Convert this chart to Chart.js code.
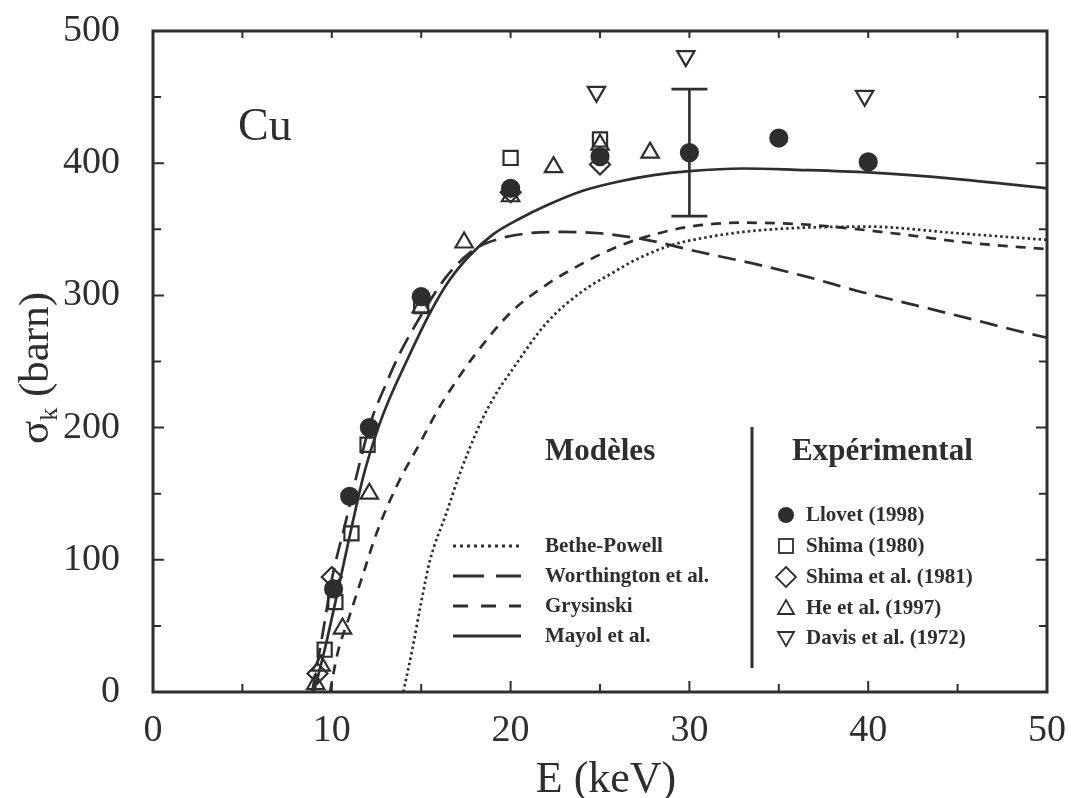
<!DOCTYPE html>
<html>
<head>
<meta charset="utf-8">
<script src="https://cdn.jsdelivr.net/npm/chart.js@4"></script>
<style>
  body { margin: 0; background: #fff; }
  canvas { display: block; }
</style>
</head>
<body>
<canvas id="chart" width="1071" height="798"></canvas>
<script>
const ink = '#2e2e2e'
const serif = "'Liberation Serif', 'DejaVu Serif', serif"

// axis ticks
const xTicks = [0, 10, 20, 30, 40, 50]
const yTicks = [0, 100, 200, 300, 400, 500]

// models (E in keV, sigma in barn)
const betheE = [14.0, 14.5, 15.0, 15.5, 16.4, 17.1, 18.3, 19.2, 20, 22, 24, 25.7, 27, 29, 31, 33, 36, 40, 45, 50]
const betheS = [0, 32, 68, 100, 135, 163, 203, 226, 242, 279, 303, 317, 327, 338, 344, 348, 351, 352, 347, 342]

const worthE = [8.9, 9.5, 10, 10.8, 11.5, 12.2, 13, 13.8, 15, 16.4, 18, 19.4, 21, 22.9, 25, 27.6, 30.5, 33.6, 36.6, 39.5, 42.5, 45.5, 48.7, 50]
const worthS = [0, 45, 85, 130, 170, 205, 232, 256, 285, 314, 335, 343, 347, 348, 347, 342, 333, 324, 314, 303, 293, 283, 272, 268]

const grysE = [9.9, 10.3, 11, 11.7, 12.5, 13.6, 15, 16, 17, 18, 20, 22, 24, 26, 28, 30, 33, 36, 38, 42, 45.5, 50]
const grysS = [0, 28, 58, 87, 120, 155, 190, 215, 236, 255, 287, 308, 324, 337, 346, 352, 355, 354, 352, 346, 340, 335]

const mayolE = [9.0, 9.6, 10.2, 11, 11.8, 12.6, 13.2, 14, 15.5, 16.5, 17.7, 19, 20.5, 22, 24, 26, 28, 30, 33, 36, 40, 45, 50]
const mayolS = [0, 32, 68, 118, 165, 200, 221, 245, 287, 310, 330, 346, 358, 368, 379, 386, 391, 394, 396, 395, 393, 388, 381]

// experiments
const llovetE = [10.1, 11, 12.1, 15, 20, 25, 30, 35, 40]
const llovetS = [78, 148, 200, 299, 381, 405, 408, 419, 401]
const errE = [30]
const errLo = [360]
const errHi = [456]

const shima80E = [9.6, 10.2, 11.1, 12, 15, 20, 25]
const shima80S = [32, 68, 120, 187, 292, 404, 418]

const shima81E = [9.2, 10.0, 20, 25]
const shima81S = [14, 87, 378, 399]

const heE = [9.1, 9.4, 10.6, 12.1, 15, 17.4, 20, 22.4, 25, 27.8]
const heS = [6, 20, 48, 150, 291, 340, 375, 397, 414, 408]

const davisE = [24.8, 29.8, 39.8]
const davisS = [454, 481, 451]

const pts = (xs, ys) => xs.map((x, i) => ({x: x, y: ys[i]}))

const curve = (label, xs, ys, dash) => ({
  label: label,
  data: pts(xs, ys),
  showLine: true,
  borderColor: ink,
  borderWidth: 2.7,
  borderDash: dash,
  pointRadius: 0,
  cubicInterpolationMode: 'monotone',
})

const markers = (label, xs, ys, style, r, filled, rot) => ({
  label: label,
  data: pts(xs, ys),
  showLine: false,
  pointStyle: style,
  pointRadius: r,
  rotation: rot || 0,
  borderColor: ink,
  borderWidth: 2.2,
  backgroundColor: filled ? ink : 'rgba(0,0,0,0)',
})

const models = [
  {name: 'Bethe-Powell', dash: [3, 4]},
  {name: 'Worthington et al.', dash: [31, 12]},
  {name: 'Grysinski', dash: [15, 13]},
  {name: 'Mayol et al.', dash: []},
]
const experiments = [
  {name: 'Llovet (1998)', shape: 'dot'},
  {name: 'Shima (1980)', shape: 'square'},
  {name: 'Shima et al. (1981)', shape: 'diamond'},
  {name: 'He et al. (1997)', shape: 'up'},
  {name: 'Davis et al. (1972)', shape: 'down'},
]

// frame, inside ticks, error bar, titles and the two-column key
const decorations = {
  id: 'decorations',
  afterDatasetsDraw(chart) {
    const {ctx, chartArea: a, scales: {x, y}} = chart
    ctx.save()
    ctx.strokeStyle = ink
    ctx.fillStyle = ink

    // error bar on Llovet 30 keV
    ctx.lineWidth = 2.6
    errE.forEach((e, i) => {
      const px = x.getPixelForValue(e)
      const top = y.getPixelForValue(errHi[i])
      const bot = y.getPixelForValue(errLo[i])
      ctx.beginPath()
      ctx.moveTo(px, top); ctx.lineTo(px, bot)
      ctx.moveTo(px - 18, top); ctx.lineTo(px + 18, top)
      ctx.moveTo(px - 18, bot); ctx.lineTo(px + 18, bot)
      ctx.stroke()
    })

    // frame
    ctx.lineWidth = 3
    ctx.strokeRect(a.left, a.top, a.right - a.left, a.bottom - a.top)

    // tick marks pointing inward
    ctx.lineWidth = 2
    ctx.beginPath()
    for (let v = 0; v <= 50; v += 5) {
      const px = x.getPixelForValue(v)
      const len = v % 10 === 0 ? 11 : 8
      ctx.moveTo(px, a.bottom); ctx.lineTo(px, a.bottom - len)
      ctx.moveTo(px, a.top); ctx.lineTo(px, a.top + 7)
    }
    for (let v = 0; v <= 500; v += 50) {
      const py = y.getPixelForValue(v)
      const len = v % 100 === 0 ? 11 : 8
      ctx.moveTo(a.left, py); ctx.lineTo(a.left + len, py)
      ctx.moveTo(a.right, py); ctx.lineTo(a.right - len, py)
    }
    ctx.stroke()

    // element label
    ctx.font = '46px ' + serif
    ctx.textAlign = 'left'
    ctx.textBaseline = 'alphabetic'
    ctx.fillText('Cu', 238, 140)

    // axis titles
    ctx.font = '44px ' + serif
    ctx.textAlign = 'center'
    ctx.fillText('E (keV)', 606, 792)

    ctx.save()
    ctx.translate(48, 368)
    ctx.rotate(-Math.PI / 2)
    ctx.textAlign = 'left'
    ctx.font = '43px ' + serif
    const sig = 'σ', rest = ' (barn)'
    const wSig = ctx.measureText(sig).width
    ctx.font = '26px ' + serif
    const wK = ctx.measureText('k').width
    ctx.font = '43px ' + serif
    const wRest = ctx.measureText(rest).width
    let tx = -(wSig + wK + wRest) / 2
    ctx.fillText(sig, tx, 0); tx += wSig
    ctx.font = '26px ' + serif
    ctx.fillText('k', tx, 9); tx += wK
    ctx.font = '43px ' + serif
    ctx.fillText(rest, tx, 0)
    ctx.restore()

    // key
    ctx.lineWidth = 3
    ctx.beginPath()
    ctx.moveTo(752, 427); ctx.lineTo(752, 668)
    ctx.stroke()

    ctx.textAlign = 'left'
    ctx.textBaseline = 'middle'
    ctx.font = 'bold 31px ' + serif
    ctx.fillText('Modèles', 545, 452)
    ctx.fillText('Expérimental', 792, 452)

    ctx.font = 'bold 21px ' + serif
    const modelRows = [546, 576, 606, 636]
    models.forEach((m, i) => {
      const ry = modelRows[i]
      ctx.save()
      ctx.lineWidth = 3.2
      ctx.setLineDash(m.dash)
      ctx.beginPath()
      ctx.moveTo(453, ry); ctx.lineTo(521, ry)
      ctx.stroke()
      ctx.restore()
      ctx.fillText(m.name, 545, ry + 1)
    })

    const expRows = [515, 546, 577, 608, 638]
    experiments.forEach((e, i) => {
      const ry = expRows[i], cx = 786
      ctx.save()
      ctx.lineWidth = 1.8
      ctx.beginPath()
      if (e.shape === 'dot') {
        ctx.arc(cx, ry, 8, 0, Math.PI * 2)
        ctx.fill()
      } else if (e.shape === 'square') {
        ctx.strokeRect(cx - 7, ry - 7, 14, 14)
      } else if (e.shape === 'diamond') {
        ctx.moveTo(cx, ry - 10); ctx.lineTo(cx + 10, ry); ctx.lineTo(cx, ry + 10); ctx.lineTo(cx - 10, ry); ctx.closePath()
        ctx.stroke()
      } else if (e.shape === 'up') {
        ctx.moveTo(cx, ry - 8); ctx.lineTo(cx + 8, ry + 6); ctx.lineTo(cx - 8, ry + 6); ctx.closePath()
        ctx.stroke()
      } else {
        ctx.moveTo(cx, ry + 8); ctx.lineTo(cx + 8, ry - 6); ctx.lineTo(cx - 8, ry - 6); ctx.closePath()
        ctx.stroke()
      }
      ctx.restore()
      ctx.fillText(e.name, 806, ry + 1)
    })

    ctx.restore()
  }
}

new Chart(document.getElementById('chart'), {
  type: 'scatter',
  data: {
    datasets: [
      curve('Bethe-Powell', betheE, betheS, [2.5, 3]),
      curve('Worthington et al.', worthE, worthS, [18, 9]),
      curve('Grysinski', grysE, grysS, [10, 8]),
      curve('Mayol et al.', mayolE, mayolS, []),
      markers('He et al. (1997)', heE, heS, 'triangle', 10, false),
      markers('Davis et al. (1972)', davisE, davisS, 'triangle', 10, false, 180),
      markers('Shima (1980)', shima80E, shima80S, 'rect', 10, false),
      markers('Shima et al. (1981)', shima81E, shima81S, 'rectRot', 10, false),
      markers('Llovet (1998)', llovetE, llovetS, 'circle', 8.5, true),
    ]
  },
  options: {
    responsive: false,
    animation: false,
    layout: { padding: { top: 31, right: 24, left: 0, bottom: 0 } },
    plugins: { legend: { display: false }, tooltip: { enabled: false } },
    scales: {
      x: {
        type: 'linear', min: 0, max: 50,
        grid: { display: false },
        border: { display: false },
        afterBuildTicks: s => { s.ticks = xTicks.map(v => ({value: v})) },
        afterFit: s => { s.height = 106; s.paddingLeft = 0; s.paddingRight = 0 },
        ticks: { color: ink, padding: 8, font: { family: serif, size: 38 } },
      },
      y: {
        type: 'linear', min: 0, max: 500,
        grid: { display: false },
        border: { display: false },
        afterBuildTicks: s => { s.ticks = yTicks.map(v => ({value: v})) },
        afterFit: s => { s.width = 153; s.paddingTop = 0; s.paddingBottom = 0 },
        ticks: { color: ink, padding: 25, font: { family: serif, size: 38 } },
      }
    }
  },
  plugins: [decorations]
})
</script>
</body>
</html>
